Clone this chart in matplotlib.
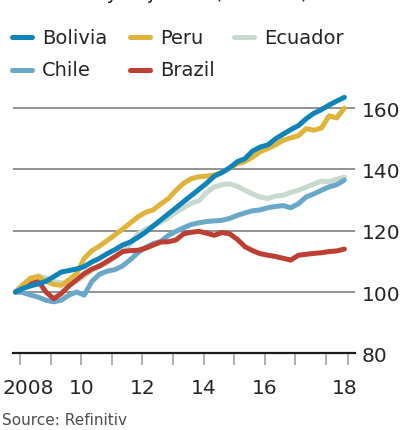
import numpy as np
import matplotlib
matplotlib.use("Agg")
import matplotlib.pyplot as plt
from matplotlib.lines import Line2D

# quarterly observations, Q4 2007 onwards (index, start = 100)
quarters = np.arange(44)
start_year = 2007.85

bolivia = [100, 101.2, 102, 102.7, 103.5, 105, 106.5, 107, 107.5, 108.3, 109.8, 111,
           112.5, 113.8, 115.3, 116.3, 117.8, 119.5, 121.5, 123.5, 125.5, 127.5, 129.5,
           131.5, 133.5, 135.5, 137.8, 139, 140.5, 142.5, 143.5, 146, 147.3, 148, 150,
           151.5, 153, 154.3, 156.5, 158.3, 159.5, 161, 162.3, 163.5]
peru = [100, 102.5, 104.5, 105, 103.5, 102.5, 102.2, 104, 106, 111, 113.5, 115,
        116.8, 118.6, 120.5, 122.5, 124.5, 126, 126.8, 128.7, 130.5, 133.2, 135.5,
        137, 137.6, 137.8, 138.2, 139, 140.5, 141.8, 142.6, 144, 145.8, 146.8, 148,
        149.5, 150.3, 151, 153.3, 152.8, 153.5, 157.5, 156.8, 160]
ecuador = [100, 102, 104.5, 105.3, 104.5, 103.5, 103, 102.7, 103.5, 105.2, 107, 108.5,
           109.5, 111.5, 113, 115.5, 119, 120.5, 121.6, 122.8, 124.2, 126, 127.5,
           129, 129.8, 132.5, 134.3, 135, 135.3, 134.5, 133.2, 132, 131, 130.5, 131.3,
           131.5, 132.5, 133.2, 134.2, 135.2, 136.2, 136, 136.8, 137.5]
chile = [100, 99.8, 99, 98.3, 97.3, 96.8, 97.3, 99, 100, 99, 103.5, 105.8,
         106.8, 107.3, 108.5, 110.5, 112.8, 114.5, 115.8, 116.5, 118.5, 119.8, 121,
         122, 122.6, 123, 123.2, 123.4, 124, 125, 125.8, 126.5, 126.8, 127.5, 127.9,
         128.2, 127.5, 128.8, 131, 132, 133.2, 134.3, 135, 136.5]
brazil = [100, 101.5, 102.7, 103.5, 100, 97.8, 99.5, 102, 104, 106, 107.5, 108.5,
          110, 111.5, 113.2, 113.5, 113.6, 114.3, 115.3, 116.3, 116.4, 117, 119,
          119.5, 119.8, 119.2, 118.5, 119.4, 119, 117.2, 114.8, 113.5, 112.5, 112,
          111.6, 111, 110.4, 112, 112.3, 112.6, 112.8, 113.2, 113.4, 114]

series_names = ["Bolivia", "Peru", "Ecuador", "Chile", "Brazil"]
colors = {"Bolivia": "#0e84b8", "Peru": "#e0b43a", "Ecuador": "#c8d9cd",
          "Chile": "#6aa8c9", "Brazil": "#bd3f33"}
data = {"Bolivia": bolivia, "Peru": peru, "Ecuador": ecuador,
        "Chile": chile, "Brazil": brazil}

y_ticks = [80, 100, 120, 140, 160]
x_tick_years = [2008, 2009, 2010, 2011, 2012, 2013, 2014, 2015, 2016, 2017, 2018, 2018.73]
x_label_pos = [2008.26, 2010, 2012, 2014, 2016, 2018.62]
x_labels = ["2008", "10", "12", "14", "16", "18"]

x = start_year + quarters / 4.0

W, H = 401, 431
fig = plt.figure(figsize=(W / 100, H / 100), dpi=100)
ax = fig.add_axes([13 / W, 1 - 354.3 / H, (355 - 13) / W, (354.3 - 93.8) / H])
ax.set_xlim(2007.771, 2018.948)
ax.set_ylim(80, 165)

for yv in y_ticks[1:]:
    ax.axhline(yv, color="#808080", lw=1.2, zorder=1)

lw = 3.6
draw_order = ["Ecuador", "Chile", "Brazil", "Peru", "Bolivia"]
for i, name in enumerate(draw_order):
    ax.plot(x, data[name], color=colors[name], lw=lw, solid_capstyle="round",
            solid_joinstyle="round", zorder=3 + i)

for s in ["top", "left", "right"]:
    ax.spines[s].set_visible(False)
ax.spines["bottom"].set_color("#1a1a1a")
ax.spines["bottom"].set_linewidth(1.6)

ax.yaxis.tick_right()
ax.set_yticks(y_ticks)
ax.set_yticklabels([str(v) for v in y_ticks])
ax.tick_params(axis="y", length=0, pad=5, labelsize=14.5, labelcolor="#262626")

ax.xaxis.remove_overlapping_locs = False
ax.set_xticks(x_tick_years)
ax.set_xticklabels([""] * len(x_tick_years))
ax.tick_params(axis="x", which="major", length=8.5, width=1.1, color="#999999",
               direction="out")
ax.set_xticks(x_label_pos, minor=True)
ax.set_xticklabels(x_labels, minor=True)
ax.tick_params(axis="x", which="minor", length=0, pad=17.5, labelsize=14.5,
               labelcolor="#262626")

# subtitle, cut off at the top edge as in the reference
fig.text(13 / W, 1 + 1.0 / H, "Seasonally adjusted (rebased)", fontsize=14,
         color="#262626", va="baseline", ha="left")

# legend
legend_items = [("Bolivia", 10, 38), ("Peru", 128, 38), ("Ecuador", 232, 38),
                ("Chile", 10, 71), ("Brazil", 128, 71)]
for name, px, py in legend_items:
    yf = 1 - py / H
    fig.add_artist(Line2D([(px + 2) / W, (px + 22) / W], [yf, yf], color=colors[name],
                          lw=lw, solid_capstyle="round", transform=fig.transFigure))
    fig.text((px + 32) / W, yf, name, fontsize=14, color="#262626",
             va="center", ha="left")

fig.text(2 / W, 1 - 421 / H, "Source: Refinitiv", fontsize=11, color="#4d4d4d",
         va="center", ha="left")

fig.savefig("out.png", dpi=100)
